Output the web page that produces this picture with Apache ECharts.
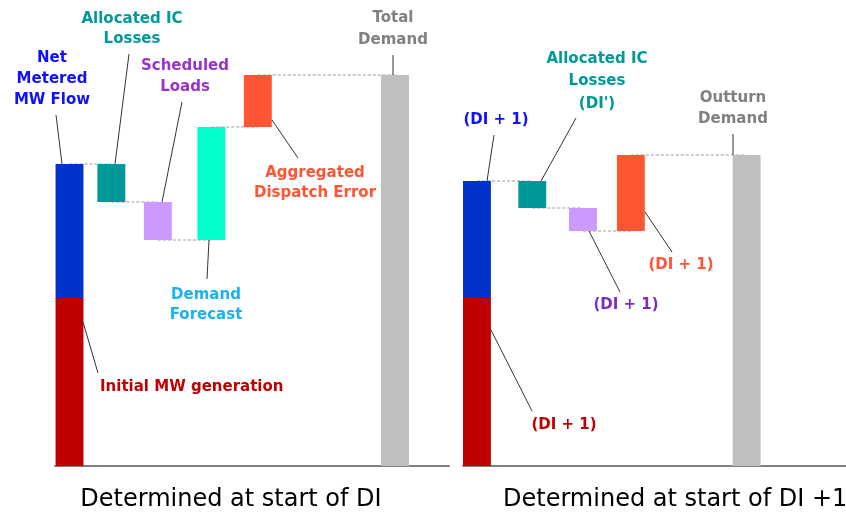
<!DOCTYPE html>
<html>
<head>
<meta charset="utf-8">
<script src="https://cdn.jsdelivr.net/npm/echarts@6/dist/echarts.min.js"></script>
<style>html,body{margin:0;padding:0;background:#fff}#c{width:846px;height:516px}</style>
</head>
<body>
<div id="c"></div>
<script>
// ---- Data ----
// Left panel: Determined at start of DI
const leftNames = ['Initial MW generation', 'Net Metered MW Flow', 'Allocated IC Losses', 'Scheduled Loads', 'Demand Forecast', 'Aggregated Dispatch Error', 'Total Demand'];
const leftPos   = [0, 0, 0.9, 1.9, 3.05, 4.05, 7];
const leftLow   = [0, 168, 264, 226, 226, 339, 0];
const leftHigh  = [168, 302, 302, 264, 339, 391, 391];

// Right panel: Determined at start of DI +1
const rightNames = ['Initial MW generation (DI + 1)', 'Net Metered MW Flow (DI + 1)', "Allocated IC Losses (DI')", 'Scheduled Loads (DI + 1)', 'Aggregated Dispatch Error (DI + 1)', 'Outturn Demand'];
const rightPos   = [0, 0, 1.19, 2.28, 3.31, 5.8];
const rightLow   = [0, 168, 258, 235, 235, 0];
const rightHigh  = [168, 285, 285, 258, 311, 311];

const panelTitles = ['Determined at start of DI', 'Determined at start of DI +1'];

// ---- Styles ----
const leftColors  = ['#C00000', '#0033CC', '#009999', '#CC99FF', '#00FFCC', '#FF5533', '#BFBFBF'];
const rightColors = ['#C00000', '#0033CC', '#009999', '#CC99FF', '#FF5533', '#BFBFBF'];
const BAR_W = 0.6;

function barData(names, pos, low, high, colors) {
  return names.map((n, i) => ({ name: n, value: [pos[i], low[i], high[i]], itemStyle: { color: colors[i] } }));
}
// connectors between consecutive bars (skip segments stacked in the same column)
function connData(pos, low, high) {
  const out = [];
  for (let i = 1; i < pos.length; i++) {
    const p = i - 1;
    if (pos[p] === pos[i]) continue;
    let level;
    if (high[p] === high[i] || high[p] === low[i]) level = high[p];
    else level = low[p];
    if (p > 0 && pos[p - 1] === pos[p]) level = high[p];
    out.push([pos[p], level, pos[i]]);
  }
  return out;
}

function renderBar(params, api) {
  const x = api.value(0), lo = api.value(1), hi = api.value(2);
  const p0 = api.coord([x, lo]);
  const p1 = api.coord([x, hi]);
  const w = api.size([BAR_W, 0])[0];
  return {
    type: 'rect',
    shape: { x: p0[0] - w / 2, y: p1[1], width: w, height: p0[1] - p1[1] },
    style: { fill: api.visual('color') }
  };
}
function renderConn(params, api) {
  const a = api.coord([api.value(0), api.value(1)]);
  const b = api.coord([api.value(2), api.value(1)]);
  return {
    type: 'line',
    shape: { x1: a[0], y1: a[1], x2: b[0], y2: b[1] },
    style: { stroke: '#9a9a9a', lineWidth: 1, lineDash: [3, 2] }
  };
}

const axisLineStyle = { show: true, onZero: false, lineStyle: { color: '#808080', width: 2 } };
function xAx(idx, min, max) {
  return { type: 'value', gridIndex: idx, min: min, max: max, axisLine: axisLineStyle, axisTick: { show: false }, axisLabel: { show: false }, splitLine: { show: false } };
}
function yAx(idx) {
  return { type: 'value', gridIndex: idx, min: 0, max: 400, axisLine: { show: false }, axisTick: { show: false }, axisLabel: { show: false }, splitLine: { show: false } };
}

const F = 'bold 15px "DejaVu Sans", Verdana, sans-serif';
function label(text, x, y, color, lh, align) {
  return { type: 'text', x: x, y: y, z: 10, style: { text: text, fill: color, font: F, align: align || 'center', verticalAlign: 'middle', lineHeight: lh || 20 } };
}
function leader(x1, y1, x2, y2) {
  return { type: 'line', z: 10, shape: { x1, y1, x2, y2 }, style: { stroke: '#333', lineWidth: 1 } };
}
const TF = '24px "DejaVu Sans", Verdana, sans-serif';

const chart = echarts.init(document.getElementById('c'), null, { renderer: 'canvas' });
chart.setOption({
  animation: false,
  backgroundColor: '#fff',
  grid: [
    { left: 55, width: 394, top: 66, bottom: 50 },
    { left: 463, right: 0, top: 66, bottom: 50 }
  ],
  xAxis: [xAx(0, -0.312, 8.161), xAx(1, -0.30, 7.937)],
  yAxis: [yAx(0), yAx(1)],
  series: [
    { type: 'custom', xAxisIndex: 0, yAxisIndex: 0, z: 1, renderItem: renderConn, encode: { x: [0, 2], y: 1 }, data: connData(leftPos, leftLow, leftHigh), silent: true },
    { type: 'custom', xAxisIndex: 0, yAxisIndex: 0, z: 2, renderItem: renderBar, encode: { x: 0, y: [1, 2] }, data: barData(leftNames, leftPos, leftLow, leftHigh, leftColors) },
    { type: 'custom', xAxisIndex: 1, yAxisIndex: 1, z: 1, renderItem: renderConn, encode: { x: [0, 2], y: 1 }, data: connData(rightPos, rightLow, rightHigh), silent: true },
    { type: 'custom', xAxisIndex: 1, yAxisIndex: 1, z: 2, renderItem: renderBar, encode: { x: 0, y: [1, 2] }, data: barData(rightNames, rightPos, rightLow, rightHigh, rightColors) }
  ],
  graphic: [
    // left panel annotations
    label('Net\nMetered\nMW Flow', 52, 79, '#1010FF', 21),
    leader(56, 115, 62, 164),
    label('Allocated IC\nLosses', 132, 29, '#009999', 20),
    leader(129, 54, 115, 164),
    label('Scheduled\nLoads', 185, 76.5, '#9933CC', 21),
    leader(182, 102, 162, 202),
    label('Demand\nForecast', 206, 305, '#1AB2F0', 20),
    leader(209, 240, 207, 279),
    label('Aggregated\nDispatch Error', 315, 183, '#FF5533', 20),
    leader(272, 120, 298, 158),
    label('Total\nDemand', 393, 29, '#808080', 22),
    leader(393, 55, 393, 75),
    label('Initial MW generation', 100, 387, '#C00000', 20, 'left'),
    leader(83, 322, 98, 373),
    // right panel annotations
    label('(DI + 1)', 496, 120, '#1010FF'),
    leader(494, 135, 487, 181),
    label("Allocated IC\nLosses\n(DI')", 597, 81.5, '#009999', 22.5),
    leader(576, 118, 541, 181),
    label('Outturn\nDemand', 733, 108.5, '#808080', 21),
    leader(733, 134, 733, 155),
    label('(DI + 1)', 681, 265, '#FF5533'),
    leader(645, 212, 672, 252),
    label('(DI + 1)', 626, 305, '#7B2FBE'),
    leader(589, 231, 620, 292),
    label('(DI + 1)', 564, 425, '#C00000'),
    leader(491, 330, 532, 411),
    // panel titles
    { type: 'text', x: 231, y: 500, z: 10, style: { text: panelTitles[0], fill: '#000', font: TF, align: 'center', verticalAlign: 'middle' } },
    { type: 'text', x: 503, y: 500, z: 10, style: { text: panelTitles[1], fill: '#000', font: TF, align: 'left', verticalAlign: 'middle' } }
  ]
});
</script>
</body>
</html>
